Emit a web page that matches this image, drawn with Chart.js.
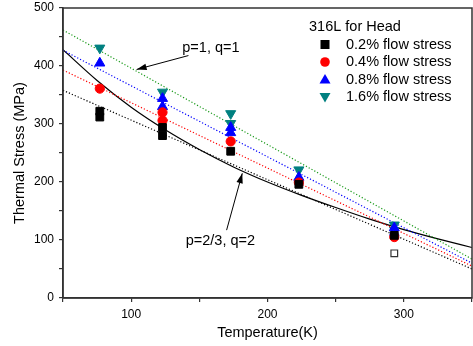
<!DOCTYPE html>
<html>
<head>
<meta charset="utf-8">
<script src="https://cdn.jsdelivr.net/npm/chart.js@4/dist/chart.umd.min.js"></script>
<style>
  html, body { margin: 0; padding: 0; background: #fff; }
  #wrap { width: 473px; height: 346px; }
</style>
</head>
<body>
<div id="wrap"><canvas id="mychart" width="473" height="346"></canvas></div>
<script>
// measured points (temperature in K, stress in MPa)
var temp02 = [77, 77, 123, 123, 173, 223, 293];
var stress02 = [322, 312, 294, 280, 253, 196, 108];
var temp04 = [77, 123, 123, 173, 223, 293];
var stress04 = [361, 320, 306, 270, 199, 105];
var temp08 = [77, 123, 123, 173, 173, 223, 293];
var stress08 = [405, 344, 330, 294, 285, 208, 121];
var temp16 = [77, 123, 173, 173, 223, 293];
var stress16 = [431, 355, 318, 301, 221, 126];

// open symbols at 293 K
var tempOpen = [293];
var open02 = [77];
var open04 = [107];
var open08 = [113];
var open16 = [117];

// dotted fits
var fitT = [50, 350];
var fit02 = [358, 50];
var fit04 = [393, 55];
var fit08 = [427, 60];
var fit16 = [462, 67];

// solid model curve
var curveT = [50, 75, 100, 125, 150, 175, 200, 225, 250, 275, 300, 325, 350];
var curveS = [428, 375, 329, 290, 256, 226, 200, 177, 156, 136, 118, 102, 87];

var seriesNames = ['0.2% flow stress', '0.4% flow stress', '0.8% flow stress', '1.6% flow stress'];
var colors = ['#000000', '#ff0000', '#0000ff', '#008080'];
var lineColors = ['#000000', '#ff0000', '#0000ff', '#1a9a1a'];
var shapes = ['rect', 'circle', 'triangle', 'triangle'];
var rotations = [0, 0, 0, 180];
var radii = [5.5, 4.6, 5.8, 5.8];

var FONT = '"Liberation Sans", Arial, sans-serif';

function pts(xs, ys) {
  return xs.map(function (x, i) { return { x: x, y: ys[i] }; });
}

var markerSets = [[temp02, stress02], [temp04, stress04], [temp08, stress08], [temp16, stress16]];
var openSets = [open02, open04, open08, open16];
var fitSets = [fit02, fit04, fit08, fit16];

var datasets = [];
markerSets.forEach(function (s, i) {
  datasets.push({
    label: seriesNames[i],
    data: pts(s[0], s[1]),
    showLine: false,
    pointStyle: shapes[i],
    rotation: rotations[i],
    pointRadius: radii[i],
    backgroundColor: colors[i],
    borderColor: colors[i],
    borderWidth: 1
  });
});
openSets.forEach(function (s, i) {
  datasets.push({
    label: 'open ' + i,
    data: pts(tempOpen, s),
    showLine: false,
    pointStyle: shapes[i],
    rotation: rotations[i],
    pointRadius: radii[i] - 0.8,
    backgroundColor: '#ffffff',
    borderColor: i == 0 ? '#333' : colors[i],
    borderWidth: 1.2
  });
});
fitSets.forEach(function (s, i) {
  datasets.push({
    label: 'fit ' + i,
    data: pts(fitT, s),
    showLine: true,
    pointRadius: 0,
    borderColor: lineColors[i],
    borderWidth: 1.2,
    borderDash: [1.2, 2]
  });
});
datasets.push({
  label: 'model',
  data: pts(curveT, curveS),
  showLine: true,
  pointRadius: 0,
  borderColor: '#000',
  borderWidth: 1.2,
  cubicInterpolationMode: 'monotone'
});

function arrow(ctx, x1, y1, x2, y2) {
  ctx.beginPath();
  ctx.moveTo(x1, y1);
  ctx.lineTo(x2, y2);
  ctx.stroke();
  var a = Math.atan2(y2 - y1, x2 - x1);
  var len = 10, w = 3.2;
  ctx.beginPath();
  ctx.moveTo(x2, y2);
  ctx.lineTo(x2 - len * Math.cos(a) + w * Math.sin(a), y2 - len * Math.sin(a) - w * Math.cos(a));
  ctx.lineTo(x2 - len * Math.cos(a) - w * Math.sin(a), y2 - len * Math.sin(a) + w * Math.cos(a));
  ctx.closePath();
  ctx.fill();
}

function marker(ctx, i, x, y) {
  ctx.fillStyle = colors[i];
  ctx.beginPath();
  if (shapes[i] == 'rect') {
    ctx.rect(x - 4.5, y - 4.5, 9, 9);
  } else if (shapes[i] == 'circle') {
    ctx.arc(x, y, 4.8, 0, Math.PI * 2);
  } else if (rotations[i] == 0) {
    ctx.moveTo(x, y - 5.5); ctx.lineTo(x + 5.5, y + 4); ctx.lineTo(x - 5.5, y + 4);
  } else {
    ctx.moveTo(x, y + 5.5); ctx.lineTo(x + 5.5, y - 4); ctx.lineTo(x - 5.5, y - 4);
  }
  ctx.closePath();
  ctx.fill();
}

// stretch the plot to the right edge (chart.js keeps a gap for the last tick)
var stretch = {
  id: 'stretch',
  afterLayout: function (chart) {
    var s = chart.scales.x;
    var r = chart.width - 1;
    s.right = r;
    s.width = r - s.left;
    chart.chartArea.right = r;
    chart.chartArea.width = r - chart.chartArea.left;
    s.configure();
  }
};

var extras = {
  id: 'extras',
  afterDraw: function (chart) {
    var ctx = chart.ctx, a = chart.chartArea;
    var xs = chart.scales.x, ys = chart.scales.y;
    ctx.save();
    ctx.strokeStyle = '#333';
    ctx.lineWidth = 1.5;
    ctx.strokeRect(a.left, a.top, a.right - a.left, a.bottom - a.top);

    // legend
    ctx.font = '14.5px ' + FONT;
    ctx.fillStyle = '#000';
    ctx.textBaseline = 'middle';
    ctx.textAlign = 'left';
    ctx.fillText('316L for Head', 309, 27);
    for (var i = 0; i < 4; i++) {
      var y = 44.5 + i * 17.5;
      marker(ctx, i, 325, y);
      ctx.fillStyle = '#000';
      ctx.fillText(seriesNames[i], 346, y);
    }

    // annotations
    ctx.strokeStyle = '#000';
    ctx.fillStyle = '#000';
    ctx.lineWidth = 1;
    ctx.fillText('p=1, q=1', xs.getPixelForValue(137.5), ys.getPixelForValue(431));
    arrow(ctx, xs.getPixelForValue(142), ys.getPixelForValue(418),
      xs.getPixelForValue(104), ys.getPixelForValue(394));
    ctx.fillText('p=2/3, q=2', xs.getPixelForValue(140), ys.getPixelForValue(98));
    arrow(ctx, xs.getPixelForValue(170), ys.getPixelForValue(117),
      xs.getPixelForValue(181.5), ys.getPixelForValue(215));
    ctx.restore();
  }
};

var ctx = document.getElementById('mychart');
var myChart = new Chart(ctx, {
  type: 'scatter',
  data: { datasets: datasets },
  options: {
    responsive: false,
    animation: false,
    layout: { padding: { top: 8, right: 1, left: 0, bottom: 0 } },
    plugins: { legend: { display: false }, tooltip: { enabled: false } },
    scales: {
      x: {
        type: 'linear',
        min: 50, max: 350,
        afterFit: function (s) { s.height = 48; },
        ticks: {
          stepSize: 50,
          autoSkip: false,
          maxRotation: 0,
          padding: 5,
          color: '#000',
          font: { family: FONT, size: 12 },
          callback: function (v) { return v % 100 == 0 ? v : ''; }
        },
        grid: { drawOnChartArea: false, tickLength: 4, color: '#333', lineWidth: 1.2 },
        border: { color: '#333', width: 1.5 },
        title: {
          display: true,
          text: 'Temperature(K)',
          color: '#000',
          font: { family: FONT, size: 14.5 },
          padding: { top: 0, bottom: 4 }
        }
      },
      y: {
        min: 0, max: 500,
        afterFit: function (s) { s.width = 63; s.paddingTop = 0; s.paddingBottom = 0; },
        ticks: {
          stepSize: 50,
          autoSkip: false,
          padding: 5,
          color: '#000',
          font: { family: FONT, size: 12 },
          callback: function (v) { return v % 100 == 0 ? v : ''; }
        },
        grid: { drawOnChartArea: false, tickLength: 4, color: '#333', lineWidth: 1.2 },
        border: { color: '#333', width: 1.5 },
        title: {
          display: true,
          text: 'Thermal Stress (MPa)',
          color: '#000',
          font: { family: FONT, size: 14.5 },
          padding: { top: 11, bottom: 4 }
        }
      }
    }
  },
  plugins: [stretch, extras]
});
</script>
</body>
</html>
